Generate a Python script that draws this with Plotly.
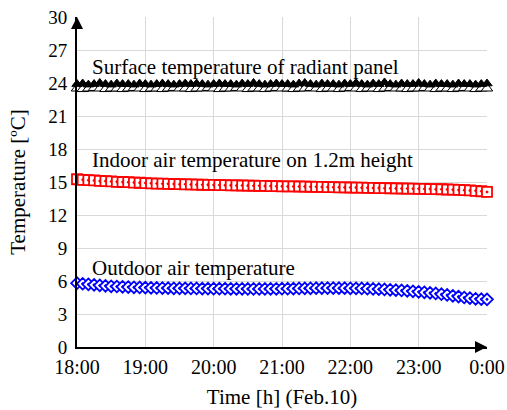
import plotly.graph_objects as go
import pandas as pd

times = pd.date_range("2013-02-10 18:00", "2013-02-11 00:00", freq="5min")

surface_upper = [23.9, 23.95, 23.85, 23.9, 24.0, 23.9, 23.85, 23.95, 23.9, 23.9, 23.85, 23.95, 23.9,
                 23.85, 23.9, 23.95, 23.9, 23.85, 23.9, 23.95, 23.9, 23.95, 23.9, 23.85, 23.9,
                 23.95, 23.9, 23.9, 23.85, 23.95, 23.9, 24.0, 23.9, 23.85, 23.9, 23.95, 23.9,
                 23.9, 23.85, 23.95, 24.0, 23.9, 23.85, 23.95, 23.9, 23.9, 23.85, 23.95, 23.9,
                 24.0, 23.9, 23.85, 23.95, 23.9, 24.05, 23.9, 23.85, 23.95, 23.9, 23.9, 24.0,
                 23.9, 23.85, 23.95, 23.9, 23.9, 23.85, 23.95, 23.9, 23.9, 23.85, 23.9, 23.95]
surface_lower = [23.5, 23.45, 23.5, 23.55, 23.5, 23.45, 23.5, 23.5, 23.45, 23.5, 23.55, 23.5, 23.45,
                 23.5, 23.5, 23.45, 23.5, 23.55, 23.5, 23.5, 23.45, 23.5, 23.5, 23.55, 23.5,
                 23.45, 23.5, 23.5, 23.55, 23.5, 23.45, 23.5, 23.5, 23.45, 23.5, 23.55, 23.5,
                 23.5, 23.45, 23.5, 23.5, 23.55, 23.5, 23.45, 23.5, 23.5, 23.45, 23.5, 23.55,
                 23.5, 23.45, 23.5, 23.5, 23.45, 23.5, 23.55, 23.5, 23.5, 23.45, 23.5, 23.5,
                 23.55, 23.5, 23.45, 23.5, 23.5, 23.45, 23.5, 23.55, 23.5, 23.45, 23.5, 23.5]
indoor = [15.25, 15.2, 15.17, 15.14, 15.1, 15.08, 15.05, 15.02, 15.0, 14.98, 14.95, 14.93, 14.9,
          14.88, 14.86, 14.85, 14.83, 14.82, 14.8, 14.79, 14.78, 14.76, 14.75, 14.74, 14.73,
          14.72, 14.71, 14.7, 14.69, 14.68, 14.67, 14.66, 14.65, 14.64, 14.63, 14.62, 14.61,
          14.6, 14.6, 14.59, 14.58, 14.57, 14.56, 14.55, 14.54, 14.53, 14.52, 14.51, 14.5,
          14.49, 14.48, 14.47, 14.46, 14.45, 14.44, 14.43, 14.42, 14.41, 14.4, 14.39, 14.38,
          14.37, 14.36, 14.35, 14.34, 14.32, 14.3, 14.28, 14.26, 14.23, 14.2, 14.16, 14.1]
outdoor = [5.8, 5.75, 5.7, 5.65, 5.6, 5.56, 5.52, 5.5, 5.47, 5.45, 5.43, 5.41, 5.4,
           5.38, 5.37, 5.36, 5.35, 5.34, 5.33, 5.33, 5.32, 5.32, 5.31, 5.31, 5.3,
           5.3, 5.3, 5.29, 5.29, 5.29, 5.28, 5.28, 5.28, 5.28, 5.29, 5.29, 5.3,
           5.3, 5.31, 5.32, 5.33, 5.34, 5.35, 5.35, 5.36, 5.36, 5.35, 5.35, 5.34,
           5.33, 5.32, 5.3, 5.28, 5.26, 5.23, 5.2, 5.17, 5.14, 5.1, 5.06, 5.02,
           4.97, 4.92, 4.87, 4.8, 4.73, 4.65, 4.58, 4.5, 4.44, 4.38, 4.35, 4.33]

labels = ["Surface temperature of radiant panel",
          "Indoor air temperature on 1.2m height",
          "Outdoor air temperature"]
label_y = [25.5, 17.0, 7.2]

FONT = "Liberation Serif, Times New Roman, serif"

fig = go.Figure()
fig.add_trace(go.Scatter(x=times, y=surface_lower, mode="markers", cliponaxis=False,
                         marker=dict(symbol="triangle-up", size=10, color="white",
                                     line=dict(color="black", width=1))))
fig.add_trace(go.Scatter(x=times, y=surface_upper, mode="markers", cliponaxis=False,
                         marker=dict(symbol="triangle-up", size=9, color="black",
                                     line=dict(color="black", width=1))))
fig.add_trace(go.Scatter(x=times, y=indoor, mode="markers", cliponaxis=False,
                         marker=dict(symbol="square-dot", size=10, color="white",
                                     line=dict(color="red", width=1.8))))
fig.add_trace(go.Scatter(x=times, y=outdoor, mode="markers", cliponaxis=False,
                         marker=dict(symbol="diamond-dot", size=9, color="white",
                                     line=dict(color="blue", width=1.8))))

for t, yv in zip(labels, label_y):
    fig.add_annotation(x=0.032, xref="paper", y=yv, yref="y", text=t, showarrow=False,
                       xanchor="left", yanchor="middle", font=dict(size=21, color="black", family=FONT))

# axis arrows
fig.add_annotation(x=times[-1], y=0, xref="x", yref="y", ax=-12, ay=0, text="",
                   showarrow=True, arrowhead=2, arrowsize=1.2, arrowwidth=2, arrowcolor="black")
fig.add_annotation(x=times[0], y=30, xref="x", yref="y", ax=0, ay=12, text="",
                   showarrow=True, arrowhead=2, arrowsize=1.2, arrowwidth=2, arrowcolor="black")

fig.update_layout(
    width=507, height=410, showlegend=False,
    margin=dict(l=77, r=20, t=17, b=63, autoexpand=False),
    paper_bgcolor="white", plot_bgcolor="white",
    font=dict(family=FONT, size=20, color="black"),
)
fig.update_xaxes(range=[times[0], times[-1]], tickformat="%-H:%M", dtick=3600000,
                 showgrid=True, gridcolor="#d9d9d9", gridwidth=1,
                 showline=True, linecolor="black", linewidth=2, zeroline=False,
                 ticks="", ticklabelstandoff=1, automargin=False,
                 tickfont=dict(size=20, color="black", family=FONT),
                 title=dict(text="Time [h] (Feb.10)", font=dict(size=21, color="black", family=FONT),
                            standoff=12))
fig.update_yaxes(range=[0, 30], dtick=3, showgrid=True, gridcolor="#d9d9d9", gridwidth=1,
                 showline=True, linecolor="black", linewidth=2, zeroline=False,
                 ticks="", ticklabelstandoff=4, automargin=False,
                 tickfont=dict(size=19, color="black", family=FONT),
                 title=dict(text="Temperature [ºC]", font=dict(size=21, color="black", family=FONT),
                            standoff=17))

fig.write_html("out.html")
